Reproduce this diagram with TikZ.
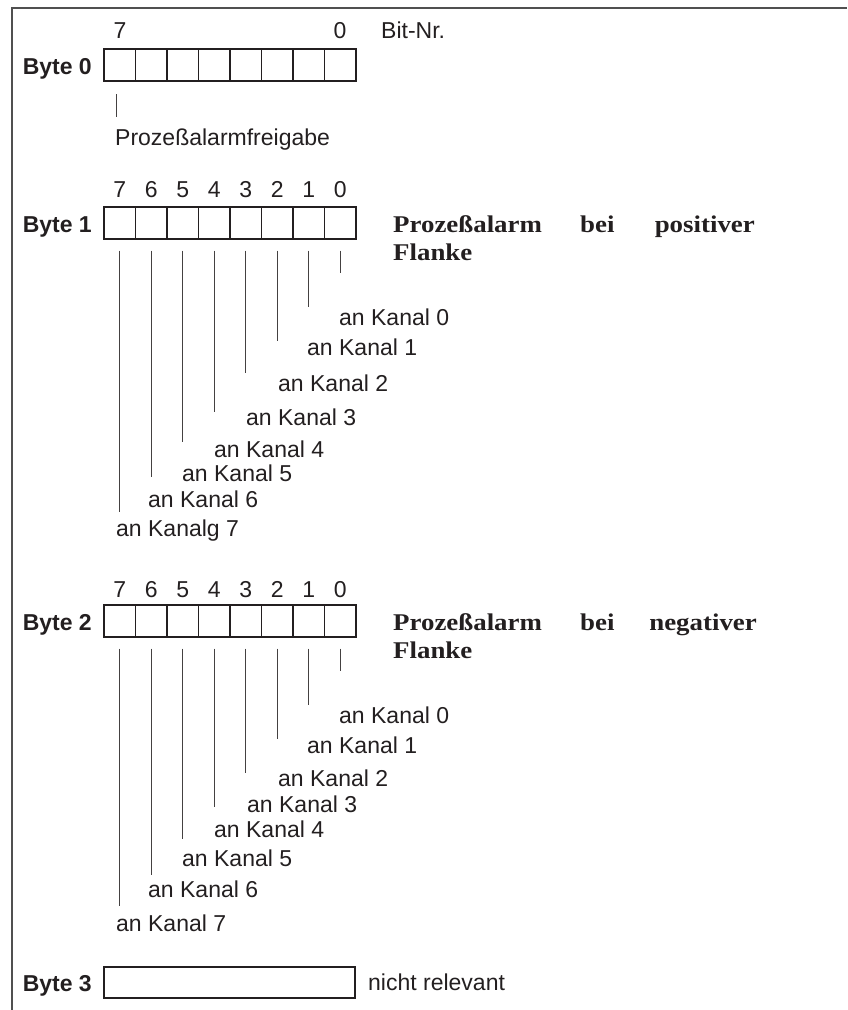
\documentclass[tikz,border=0pt]{standalone}
\usepackage{fontspec}
\setmainfont{Liberation Sans}
\newfontfamily\serifb{Liberation Serif}[FakeStretch=1.12]
\definecolor{ink}{HTML}{231F20}
\definecolor{framec}{HTML}{505050}
\tikzset{
  txt/.style={inner sep=0pt, text=ink, font=\fontsize{23}{27}\selectfont},
  btxt/.style={txt, font=\fontsize{23}{27}\selectfont\bfseries},
  stxt/.style={inner sep=0pt, text=ink, font=\fontsize{24}{29}\selectfont\serifb\bfseries},
  cell/.style={draw=ink, line width=1.2pt, minimum width=31.5pt, minimum height=32pt, inner sep=0pt},
  conn/.style={draw=ink!85, line width=0.9pt},
  framel/.style={draw=framec, line width=1.5pt}
}
\begin{document}
\begin{tikzpicture}[x=1pt,y=-1pt]
\useasboundingbox (0,0) rectangle (847,1010);
\draw[framel] (12,1010) -- (12,8) -- (847,8);

% ---------- Byte 0 ----------
\node[btxt, anchor=base east] (lb0) at (92,74) {Byte 0};
\foreach \i in {0,...,7} {
  \node[cell] (a\i) at ({119.75+31.5*(7-\i)},65) {};
}
\node[txt, anchor=base] (a7n) at (120,38) {7};
\node[txt, anchor=base] (a0n) at (340,38) {0};
\node[txt, anchor=base west] (bitnr) at (381,38) {Bit-Nr.};
\coordinate (a7s) at (116,94);
\node[txt, anchor=base west] (freig) at (115,145) {Prozeßalarmfreigabe};
\draw[conn] (a7s) -- (116,117);

% ---------- Byte 1 ----------
\node[btxt, anchor=base east] (lb1) at (92,232) {Byte 1};
\foreach \i in {0,...,7} {
  \node[cell] (b\i) at ({119.75+31.5*(7-\i)},223) {};
  \node[txt, anchor=base] (bn\i) at ({119.75+31.5*(7-\i)},197) {\i};
}
\foreach \i/\e in {0/273,1/307,2/341,3/373,4/412,5/442,6/477,7/512} {
  \coordinate (be\i) at ({119.75+31.5*(7-\i)},\e);
  \draw[conn] ([yshift=-11pt]b\i.south) -- (be\i);
}
\foreach \i/\x/\y in {0/339/325,1/307/355,2/278/391,3/246/425,4/214/457,5/182/481,6/148/507} {
  \node[txt, anchor=base west] (bk\i) at (\x,\y) {an Kanal \i};
}
\node[txt, anchor=base west] (bk7) at (116,536) {an Kanalg 7};
\node[stxt, anchor=base west] (p1a) at (393,232) {Prozeßalarm};
\node[stxt, anchor=base west] (p1b) at (580,232) {bei};
\node[stxt, anchor=base east] (p1c) at (755,232) {positiver};
\node[stxt, anchor=base west] (p1d) at (393,260) {Flanke};

% ---------- Byte 2 ----------
\node[btxt, anchor=base east] (lb2) at (92,630) {Byte 2};
\foreach \i in {0,...,7} {
  \node[cell] (c\i) at ({119.75+31.5*(7-\i)},621) {};
  \node[txt, anchor=base] (cn\i) at ({119.75+31.5*(7-\i)},597) {\i};
}
\foreach \i/\e in {0/671,1/705,2/739,3/773,4/807,5/839,6/875,7/906} {
  \coordinate (ce\i) at ({119.75+31.5*(7-\i)},\e);
  \draw[conn] ([yshift=-11pt]c\i.south) -- (ce\i);
}
\foreach \i/\x/\y in {0/339/723,1/307/753,2/278/786,3/247/812,4/214/837,5/182/866,6/148/897,7/116/931} {
  \node[txt, anchor=base west] (ck\i) at (\x,\y) {an Kanal \i};
}
\node[stxt, anchor=base west] (p2a) at (393,630) {Prozeßalarm};
\node[stxt, anchor=base west] (p2b) at (580,630) {bei};
\node[stxt, anchor=base east] (p2c) at (757,630) {negativer};
\node[stxt, anchor=base west] (p2d) at (393,658) {Flanke};

% ---------- Byte 3 ----------
\node[btxt, anchor=base east] (lb3) at (92,991) {Byte 3};
\node[cell, minimum width=251pt, minimum height=31pt] (d) at (229.5,982.5) {};
\node[txt, anchor=base west] (nrel) at (368,990) {nicht relevant};
\end{tikzpicture}
\end{document}
